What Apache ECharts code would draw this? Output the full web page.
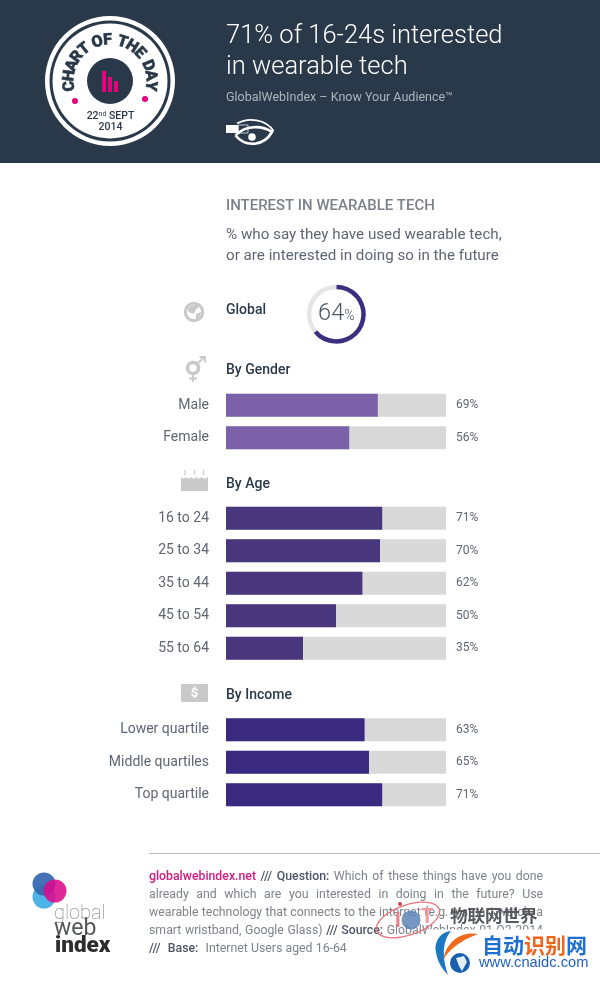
<!DOCTYPE html>
<html>
<head>
<meta charset="utf-8">
<title>Interest in wearable tech</title>
<script src="https://cdn.jsdelivr.net/npm/echarts@6/dist/echarts.min.js"></script>
<style>
  html, body { margin: 0; padding: 0; background: #fff; }
  #chart { width: 600px; height: 983px; }
</style>
</head>
<body>
<div id="chart"></div>
<script>
// data
const globalValue = 64;
const genderCats = ['Male', 'Female'];
const genderVals = [69, 56];
const ageCats = ['16 to 24', '25 to 34', '35 to 44', '45 to 54', '55 to 64'];
const ageVals = [71, 70, 62, 50, 35];
const incomeCats = ['Lower quartile', 'Middle quartiles', 'Top quartile'];
const incomeVals = [63, 65, 71];

const FONT = 'Roboto, "Open Sans", sans-serif';
const NAVY = '#2a3949';
const ICON = '#c9c9c9';

const chart = echarts.init(document.getElementById('chart'), null, { renderer: 'canvas' });

function text(str, x, y, size, color, weight, family) {
  return {
    type: 'text', x: x, y: y, silent: true,
    style: {
      text: str, fill: color, align: 'left', verticalAlign: 'middle',
      font: (weight || 'normal') + ' ' + size + 'px ' + (family || FONT)
    }
  };
}
function centered(el) {
  el.style.align = 'center';
  return el;
}
function circle(cx, cy, r, style) {
  return { type: 'circle', silent: true, shape: { cx: cx, cy: cy, r: r }, style: style };
}
function rect(x, y, w, h, fill, r) {
  return { type: 'rect', silent: true, shape: { x: x, y: y, width: w, height: h, r: r || 0 }, style: { fill: fill } };
}
// the graphic component has no plain path type, so each icon gets its own shape class
let iconCount = 0;
function path(d, style) {
  const name = 'iconShape' + (iconCount++);
  echarts.graphic.registerShape(name, echarts.graphic.extendPath(d, {}));
  return { type: name, silent: true, style: style };
}

// ---- header and badge
const graphics = [rect(0, 0, 600, 163, NAVY)];
const dateEl = centered(text('22{s|nd} SEPT', 110.5, 116, 10.5, NAVY, '500'));
dateEl.style.rich = { s: { fontSize: 7, verticalAlign: 'top', fill: NAVY, fontFamily: 'Roboto', padding: [0, 0, 3, 0] } };
graphics.push(
  circle(110, 81, 65, { fill: '#fff' }),
  circle(110, 81, 60.5, { fill: NAVY }),
  circle(110, 81, 57.5, { fill: '#fff' }),
  circle(110, 81, 23, { fill: NAVY }),
  rect(102, 71, 4, 21, '#e6007e'),
  rect(108, 77, 4, 15, '#e6007e'),
  rect(114, 81, 4, 11, '#e6007e'),
  circle(75, 101, 3, { fill: '#e6007e' }),
  circle(145, 99, 3, { fill: '#e6007e' }),
  dateEl,
  centered(text('2014', 110.5, 127, 10.5, NAVY, '500'))
);
// letters around the ring, word gaps narrower than the letter step
const badgeText = 'CHART OF THE DAY';
const badgeSteps = badgeText.split('').map(function (ch) { return ch === ' ' ? 0.45 : 1; });
const badgeTotal = badgeSteps.reduce(function (a, b) { return a + b; }, 0) - 1;
let badgePos = 0;
badgeText.split('').forEach(function (ch, i) {
  const t = (-97 + badgePos * (194 / badgeTotal)) * Math.PI / 180;
  badgePos += badgeSteps[i];
  if (ch === ' ') return;
  const el = centered(text(ch, 110 + 40.5 * Math.sin(t), 81 - 40.5 * Math.cos(t), 16, NAVY, '900'));
  el.rotation = -t;
  el.style.stroke = NAVY;
  el.style.lineWidth = 0.5;
  graphics.push(el);
});
graphics.push(
  text('71% of 16-24s interested', 226, 36.5, 25.5, '#fff', '300'),
  text('in wearable tech', 226, 67.5, 25.5, '#fff', '300'),
  text('GlobalWebIndex – Know Your Audience™', 226, 97.5, 12.5, '#aeb4bb'),
  // glasses and eye
  rect(226, 125, 12, 8, '#fff'),
  { type: 'rect', silent: true, shape: { x: 238.5, y: 125, width: 9.5, height: 8 }, style: { fill: 'none', stroke: '#c4c8cc', lineWidth: 1 } },
  path('M237 123.5 C248 117 266 119 273.5 131', { fill: 'none', stroke: '#fff', lineWidth: 1.8 }),
  path('M235.5 135.5 C245 125 262 125 272 132 C264 146 246 148 235.5 135.5', { fill: 'none', stroke: '#fff', lineWidth: 2.6 }),
  circle(252, 137, 3.8, { fill: '#fff' })
);

// ---- headings
graphics.push(
  text('INTEREST IN WEARABLE TECH', 226, 206, 14.95, '#7a818a', '500'),
  text('% who say they have used wearable tech,', 226, 235, 15.2, '#5d6773'),
  text('or are interested in doing so in the future', 226, 256, 15.2, '#5d6773'),
  text('Global', 226, 310, 14, NAVY, '500'),
  text('By Gender', 226, 370, 14, NAVY, '500'),
  text('By Age', 226, 484, 14, NAVY, '500'),
  text('By Income', 226, 695, 14, NAVY, '500')
);

// ---- section icons
graphics.push(
  circle(194, 312, 8.7, { fill: 'none', stroke: ICON, lineWidth: 3 }),
  path('M188 308 C191 305 196 304 199 306 C198 309 195 309 195 312 C193 315 190 313 188 311 Z M196 314 L201 312 C201 315 198 319 196 319 Z', { fill: ICON }),
  circle(193, 368, 5.5, { fill: 'none', stroke: ICON, lineWidth: 3.5 }),
  path('M197 364 L204 357.5 M199.5 357 L205 357 L205 362.5', { fill: 'none', stroke: ICON, lineWidth: 1.8 }),
  path('M193 374 L193 382 M189 378.5 L197 378.5', { fill: 'none', stroke: ICON, lineWidth: 1.8 }),
  path('M181 477 Q183.5 480 186 477 Q188.5 480 191 477 Q194 480 196.5 477 Q199 480 201.5 477 Q204 480 208 477 L208 491 L181 491 Z', { fill: ICON }),
  path('M185 470 L185 475 M194.5 470 L194.5 475 M203.5 470 L203.5 475', { fill: 'none', stroke: ICON, lineWidth: 1.2 }),
  rect(181, 684, 27, 18, ICON, 1),
  centered(text('$', 194.5, 694, 13, '#fff', '700'))
);

// ---- footer, justified by hand since text elements cannot do it
const PINK = '#d6187f', DARK = '#4c5766', GREY = '#7d838a';
const footerFont = '12.3px ' + FONT;
const footerBold = '500 12.3px ' + FONT;
const footerLines = [
  { justify: true, runs: [['globalwebindex.net', PINK, 1], ['///', DARK, 1], ['Question:', DARK, 1], ['Which of these things have you done', GREY, 0]] },
  { justify: true, runs: [['already and which are you interested in doing in the future? Use', GREY, 0]] },
  { justify: true, runs: [['wearable technology that connects to the internet (e.g. a smart watch, a', GREY, 0]] },
  { justify: true, runs: [['smart wristband, Google Glass)', GREY, 0], ['///', DARK, 1], ['Source:', DARK, 1], ['GlobalWebIndex 01-Q2 2014', GREY, 0]] },
  { justify: false, runs: [['///', DARK, 1], ['Base:', DARK, 1], ['Internet Users aged 16-64', GREY, 0]] }
];
const measure = document.createElement('canvas').getContext('2d');
function wordWidth(w, bold) {
  measure.font = bold ? footerBold : footerFont;
  return measure.measureText(w).width;
}
footerLines.forEach(function (line, li) {
  const words = [];
  line.runs.forEach(function (r) {
    r[0].split(' ').forEach(function (w, wi) { words.push({ w: w, color: r[1], bold: r[2], runStart: wi === 0 }); });
  });
  let total = 0;
  words.forEach(function (o) { total += wordWidth(o.w, o.bold); });
  const gap = line.justify ? (543 - 149 - total) / (words.length - 1) : 3.2;
  let x = 149;
  words.forEach(function (o, wi) {
    // the last line sets its runs further apart than its words
    if (!line.justify && o.runStart && wi > 0) x += 4;
    graphics.push(text(o.w, x, 876.5 + li * 18, 12.3, o.color, o.bold ? '500' : 'normal'));
    x += wordWidth(o.w, o.bold) + gap;
  });
});
graphics.push(
  { type: 'line', silent: true, shape: { x1: 149, y1: 853.5, x2: 600, y2: 853.5 }, style: { stroke: '#bdbdbd', lineWidth: 1 } },
  // global web index logo
  circle(44, 897, 11.5, { fill: '#4fb3e6' }),
  circle(44, 884, 11.5, { fill: '#3566b0', opacity: 0.92 }),
  circle(55, 891, 11.5, { fill: '#db0a8c', opacity: 0.88 }),
  text('global', 54, 914, 20, '#77797c', '100'),
  text('web', 54, 929, 23, '#555659', '400'),
  text('index', 55, 946, 22.5, '#2d2d2f', '900')
);

// ---- watermark sitting over the footer, its white box cuts the source line
const CJK = '"Noto Sans CJK SC"';
graphics.push(
  rect(428, 929.5, 172, 53.5, '#fff'),
  { type: 'ellipse', silent: true, rotation: 0.33, originX: 408, originY: 920, shape: { cx: 408, cy: 920, rx: 33, ry: 15 }, style: { fill: 'none', stroke: '#e8757c', lineWidth: 1.3 } },
  circle(400, 904, 2, { fill: '#e23b47' }),
  text('I', 395, 922, 20, '#ec8087', '700'),
  circle(411, 920, 9.5, { fill: '#5d86b8', opacity: 0.85 }),
  text('T', 421, 918, 20, '#f09aa0', '700'),
  text('物联网世界', 450, 915, 17.5, '#55585c', '700', CJK),
  path('M451 931 C440 932 434 942 436 952 C437 960 441 968 448 975 C443 960 441 943 451 931 Z', { fill: '#1d78c4' }),
  path('M478 934 C462 931 447 940 443 960 C449 950 459 941 478 934 Z', { fill: '#f06a1c' }),
  circle(460, 963, 10, { fill: '#1a5fae' }),
  path('M456 958 L464 956 L467 962 L462 971 L459 966 Z', { fill: '#e4eef6' }),
  text('自动', 482, 945, 21, '#1f6fd0', '700', CJK),
  text('识别', 524, 945, 21, '#f0641e', '700', CJK),
  text('网', 566, 945, 21, '#1f6fd0', '700', CJK),
  text('www.cnaidc.com', 479, 963, 14.7, '#1f5fc4', 'normal', '"Liberation Sans"')
);

// ---- bar groups
const groups = [
  { cats: genderCats, vals: genderVals, top: 389, color: '#7b62a8' },
  { cats: ageCats, vals: ageVals, top: 502, color: '#48377c' },
  { cats: incomeCats, vals: incomeVals, top: 713.5, color: '#392a80' }
];
const BAND = 32.5;
const option = { animation: false, grid: [], xAxis: [], yAxis: [], series: [], graphic: { elements: graphics } };

groups.forEach(function (g, i) {
  option.grid.push({ left: 226, width: 220, top: g.top, height: BAND * g.cats.length });
  option.xAxis.push({ gridIndex: i, type: 'value', min: 0, max: 100, show: false });
  option.yAxis.push({
    gridIndex: i, type: 'category', inverse: true, data: g.cats, position: 'left',
    axisLine: { show: false }, axisTick: { show: false },
    axisLabel: { interval: 0, margin: 17, fontFamily: 'Roboto', fontSize: 14, color: '#5d6773', padding: [0, 0, 6, 0] }
  });
  option.yAxis.push({
    gridIndex: i, type: 'category', inverse: true, position: 'right',
    data: g.vals.map(function (v) { return v + '%'; }),
    axisLine: { show: false }, axisTick: { show: false },
    axisLabel: { interval: 0, margin: 10, fontFamily: 'Roboto', fontSize: 12, color: '#5d6773' }
  });
  option.series.push({
    type: 'bar', xAxisIndex: i, yAxisIndex: i * 2, data: g.vals, barWidth: 23, silent: true,
    itemStyle: { color: g.color },
    showBackground: true, backgroundStyle: { color: '#d9d9d9' }
  });
});

// global donut
option.series.push({
  type: 'pie', center: [336.3, 314.2], radius: [25, 29.5], startAngle: 90, clockwise: true, silent: true,
  labelLine: { show: false },
  data: [
    {
      value: globalValue, itemStyle: { color: '#3d2f80' },
      label: {
        show: true, position: 'center', formatter: '{a|' + globalValue + '}{b|%}',
        rich: {
          a: { fontFamily: 'Roboto', fontSize: 23.5, color: '#4a5563', fontWeight: 300 },
          b: { fontFamily: 'Roboto', fontSize: 14, color: '#4a5563', fontWeight: 300, padding: [5, 0, 0, 0] }
        }
      }
    },
    { value: 100 - globalValue, itemStyle: { color: '#e6e6e6' }, label: { show: false } }
  ]
});

chart.setOption(option);
</script>
</body>
</html>
